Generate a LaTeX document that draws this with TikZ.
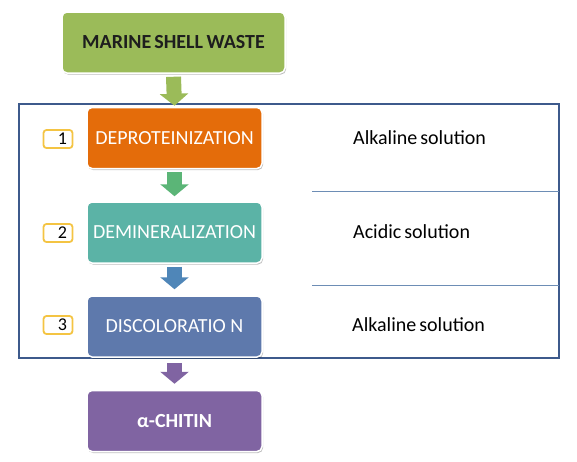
\documentclass[tikz,border=0pt]{standalone}
\usepackage{fontspec}
\setmainfont{Carlito}
\usetikzlibrary{arrows.meta,shadows}
\definecolor{cgreen}{HTML}{9BBB59}
\definecolor{corange}{HTML}{E46C0A}
\definecolor{cteal}{HTML}{5BB3A6}
\definecolor{cslate}{HTML}{5E79AC}
\definecolor{cpurple}{HTML}{8064A2}
\definecolor{agreen}{HTML}{5BB577}
\definecolor{ablue}{HTML}{4F86B8}
\definecolor{frameblue}{HTML}{3D5A8C}
\definecolor{lineblue}{HTML}{6D8DB5}
\definecolor{numyellow}{HTML}{F4C443}
\tikzset{
  stepbox/.style={rounded corners=5pt, draw=white, line width=1.5pt,
    minimum width=175pt, minimum height=61pt, text=white, font=\fontsize{20}{22}\selectfont,
    drop shadow={shadow xshift=1pt, shadow yshift=-1.5pt, opacity=0.25, fill=black}},
  numbox/.style={rounded corners=3pt, draw=numyellow, line width=1.8pt, fill=white,
    minimum width=29pt, minimum height=18pt, inner sep=0pt, text=black,
    font=\fontsize{18}{18}\selectfont},
  soltext/.style={anchor=west, inner sep=0pt, text=black, font=\fontsize{20}{22}\selectfont},
  blockarrow/.style={line width=15pt, -{Triangle[width=28pt,length=12pt]}, draw=#1},
}
\begin{document}
\begin{tikzpicture}[x=1pt,y=-1pt]
\useasboundingbox (0,0) rectangle (577,461);
% frame
\draw[frameblue, line width=1.8pt] (19,104) rectangle (559,358);
\coordinate (l1a) at (312,191);
\coordinate (l1b) at (559,191);
\coordinate (l2a) at (312,285);
\coordinate (l2b) at (559,285);
\draw[lineblue, line width=0.8pt] (l1a) -- (l1b);
\draw[lineblue, line width=0.8pt] (l2a) -- (l2b);
% boxes
\node[stepbox, fill=cgreen, minimum width=223pt, text={rgb,255:red,30;green,30;blue,30}, font=\fontsize{20}{22}\selectfont\bfseries] (waste) at (173.5,42.5) {MARINE\hspace{-1.5pt} SHELL\hspace{-1pt} WASTE};
\node[stepbox, fill=corange] (dep) at (174.5,138) {DEPROTEINIZATION};
\node[stepbox, fill=cteal] (dem) at (174.5,232.5) {DEMINERALIZATION};
\node[stepbox, fill=cslate] (dis) at (174.5,326.5) {DISCOLORATIO N};
\node[stepbox, fill=cpurple, font=\fontsize{20}{22}\selectfont\bfseries] (chi) at (174.5,421) {α-CHITIN};
% arrows
\draw[blockarrow=cgreen] ([yshift=-3pt]waste.south) -- ([yshift=1pt]dep.north);
\draw[blockarrow=agreen] ([yshift=-3pt]dep.south) -- ([yshift=5pt]dem.north);
\draw[blockarrow=ablue] ([yshift=-3pt]dem.south) -- ([yshift=6pt]dis.north);
\draw[blockarrow=cpurple] ([yshift=-5pt]dis.south) -- ([yshift=6pt]chi.north);
% numbers
\node[numbox] (n1) at (58,139) {\hspace*{9pt}1};
\node[numbox] (n2) at (58,233) {\hspace*{9pt}2};
\node[numbox] (n3) at (58,325) {\hspace*{9pt}3};
% solutions
\node[soltext] (s1) at (353,138) {Alkaline\hspace{-1.5pt} solution};
\node[soltext] (s2) at (353,232) {Acidic\hspace{-1.5pt} solution};
\node[soltext] (s3) at (352,325) {Alkaline\hspace{-1.5pt} solution};
\end{tikzpicture}
\end{document}
